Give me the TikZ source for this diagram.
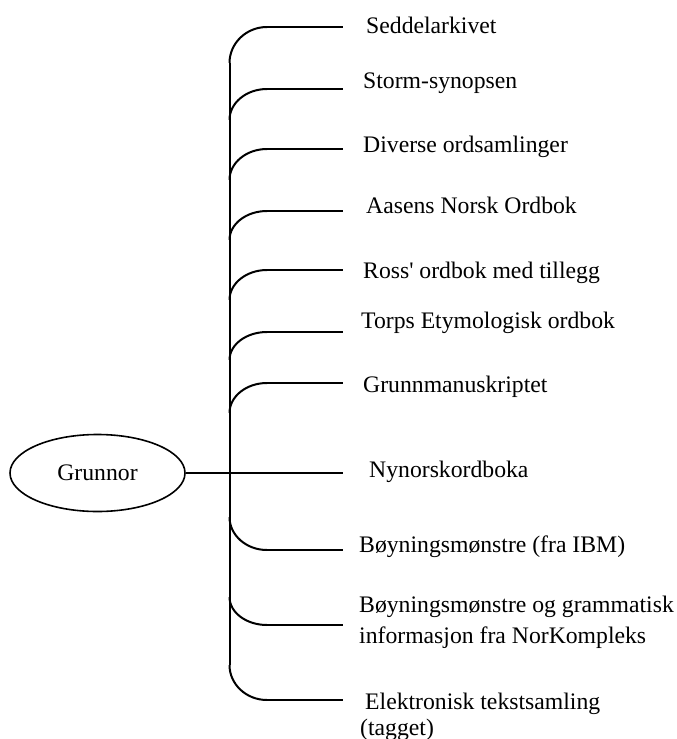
\documentclass[tikz,border=0pt]{standalone}
\usepackage{fontspec}
\setmainfont{Liberation Serif}
\usetikzlibrary{shapes.geometric}
\newcommand{\sq}{\XeTeXglyph\XeTeXglyphindex"quotesingle"\relax}
\begin{document}
\begin{tikzpicture}[x=1pt,y=-1pt,
  lbl/.style={anchor=base west, inner sep=0pt, font=\fontsize{23.7}{31}\selectfont, align=left},
  brk/.style={line width=2pt},
  hline/.style={line width=1.7pt},
  ]
\useasboundingbox (0,0) rectangle (677,739);
% root
\node[ellipse, draw, line width=1.6pt, minimum width=175pt, minimum height=77pt,
      inner sep=0pt, font=\fontsize{23.7}{28}\selectfont] (g) at (97.5,473) {Grunnor};
% trunk ends
\coordinate (ttop) at (229.5,63);
\coordinate (tbot) at (229.5,665);
\draw[brk] (ttop) -- (tbot);
% upper branches: trunk point, curve end, line end
\foreach \n/\yl/\yt in {1/27/63, 2/89/120, 3/149/180, 4/211/240, 5/270/300, 6/332/360, 7/383/413}{
  \coordinate (t\n) at (229.5,\yt);
  \coordinate (c\n) at (267,\yl);
  \coordinate (e\n) at (343,\yl);
  \draw[brk] (t\n) .. controls +(0,{-0.552*(\yt-\yl)}) and +(-20.7,0) .. (c\n);
  \draw[hline] (c\n) -- (e\n);
}
% lower branches
\foreach \n/\yl/\yt in {9/550/517, 10/625/597, 11/700/665}{
  \coordinate (t\n) at (229.5,\yt);
  \coordinate (c\n) at (267,\yl);
  \coordinate (e\n) at (343,\yl);
  \draw[brk] (t\n) .. controls +(0,{0.552*(\yl-\yt)}) and +(-20.7,0) .. (c\n);
  \draw[hline] (c\n) -- (e\n);
}
% middle branch
\coordinate (e8) at (343,473);
\draw[line width=1.4pt] (g.east) -- (e8);
% labels
\node[lbl] (l1) at (366,33) {Seddelarkivet};
\node[lbl] (l2) at (363,88) {Storm-synopsen};
\node[lbl] (l3) at (363,152) {Diverse ordsamlinger};
\node[lbl] (l4) at (366,213) {Aasens Norsk Ordbok};
\node[lbl] (l5) at (363,278) {Ross\sq{} ordbok med tillegg};
\node[lbl] (l6) at (361,328) {Torps Etymologisk ordbok};
\node[lbl] (l7) at (363,392) {Grunnmanuskriptet};
\node[lbl] (l8) at (369,477) {Nynorskordboka};
\node[lbl] (l9) at (359,552) {Bøyningsmønstre (fra IBM)};
\node[lbl] (l10) at (359,643) {Bøyningsmønstre og grammatisk\\informasjon fra NorKompleks};
\node[lbl, font=\fontsize{23.7}{26}\selectfont] (l11) at (360,735) {\hspace*{5pt}Elektronisk tekstsamling\\(tagget)};
\end{tikzpicture}
\end{document}
